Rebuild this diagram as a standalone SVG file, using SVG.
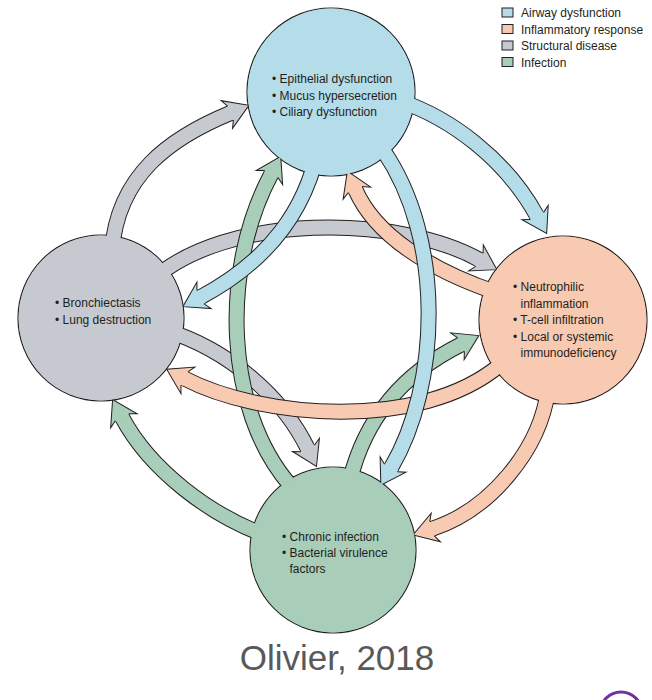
<svg xmlns="http://www.w3.org/2000/svg" width="652" height="700" viewBox="0 0 652 700">
<style>
.o{fill:none;stroke:#231f20;stroke-width:16}
.b{fill:none;stroke-width:14}
.cb{stroke:#b4dde9}.cs{stroke:#f9cab2}.cg{stroke:#c6c9d0}.ci{stroke:#a8cdb9}
.fb{fill:#b4dde9}.fs{fill:#f9cab2}.fg{fill:#c6c9d0}.fi{fill:#a8cdb9}
.hl{fill:none;stroke:#231f20;stroke-width:1;stroke-linejoin:miter}
.ring{stroke:#231f20;stroke-width:1.2}
.t{font-family:"Liberation Sans",Arial,sans-serif;font-size:12px;fill:#231f20}
.cap{font-family:"Liberation Sans",Arial,sans-serif;font-size:35px;fill:#595959}
.lb{stroke:#231f20;stroke-width:1}
</style>
<defs>
<marker id="mb" markerUnits="userSpaceOnUse" orient="auto" refX="0" refY="0" overflow="visible"><path class="fb" d="M-2,-7 L0,-7 L-4,-15 L20,0 L-4,15 L0,7 L-2,7 Z"/><path class="hl" d="M0,-7.5 L-4,-15 L20,0 L-4,15 L0,7.5"/></marker>
<marker id="ms" markerUnits="userSpaceOnUse" orient="auto" refX="0" refY="0" overflow="visible"><path class="fs" d="M-2,-7 L0,-7 L-4,-15 L20,0 L-4,15 L0,7 L-2,7 Z"/><path class="hl" d="M0,-7.5 L-4,-15 L20,0 L-4,15 L0,7.5"/></marker>
<marker id="mg" markerUnits="userSpaceOnUse" orient="auto" refX="0" refY="0" overflow="visible"><path class="fg" d="M-2,-7 L0,-7 L-4,-15 L20,0 L-4,15 L0,7 L-2,7 Z"/><path class="hl" d="M0,-7.5 L-4,-15 L20,0 L-4,15 L0,7.5"/></marker>
<marker id="mi" markerUnits="userSpaceOnUse" orient="auto" refX="0" refY="0" overflow="visible"><path class="fi" d="M-2,-7 L0,-7 L-4,-15 L20,0 L-4,15 L0,7 L-2,7 Z"/><path class="hl" d="M0,-7.5 L-4,-15 L20,0 L-4,15 L0,7.5"/></marker>
</defs>
<rect width="652" height="700" fill="#ffffff"/>
<g id="node-outlines">
<circle class="fb ring" cx="331" cy="92" r="84"/>
<circle class="fg ring" cx="101" cy="318" r="83"/>
<circle class="fs ring" cx="563" cy="320" r="84"/>
<circle class="fi ring" cx="333" cy="550" r="83"/>
</g>
<g id="connectors">
<path class="o" d="M112,250 C118,175 170,138 230.5,113"/><path class="b cg" marker-end="url(#mg)" d="M112,250 C118,175 170,138 230.5,113"/>
<path class="o" d="M150,282 C225,212 400,215 479.4,259.8"/><path class="b cg" marker-end="url(#mg)" d="M150,282 C225,212 400,215 479.4,259.8"/>
<path class="o" d="M165,330 C230,350 283,398 307.7,448.5"/><path class="b cg" marker-end="url(#mg)" d="M165,330 C230,350 283,398 307.7,448.5"/>
<path class="o" d="M290,485 C225,410 220,270 271.3,174"/><path class="b ci" marker-end="url(#mi)" d="M290,485 C225,410 220,270 271.3,174"/>
<path class="o" d="M350,480 C365,420 400,375 461,344.5"/><path class="b ci" marker-end="url(#mi)" d="M350,480 C365,420 400,375 461,344.5"/>
<path class="o" d="M265,535 C210,515 150,470 122,417.3"/><path class="b ci" marker-end="url(#mi)" d="M265,535 C210,515 150,470 122,417.3"/>
<path class="o" d="M495,292 C430,270 375,235 355.3,189.5"/><path class="b cs" marker-end="url(#ms)" d="M495,292 C430,270 375,235 355.3,189.5"/>
<path class="o" d="M500,365 C420,432 260,418 184.4,378.5"/><path class="b cs" marker-end="url(#ms)" d="M500,365 C420,432 260,418 184.4,378.5"/>
<path class="o" d="M548,390 C540,450 490,510 432,528.8"/><path class="b cs" marker-end="url(#ms)" d="M548,390 C540,450 490,510 432,528.8"/>
<path class="o" d="M400,101 C450,118 505,158 537,216"/><path class="b cb" marker-end="url(#mb)" d="M400,101 C450,118 505,158 537,216"/>
<path class="o" d="M318,150 C305,210 270,260 200.5,297.2"/><path class="b cb" marker-end="url(#mb)" d="M318,150 C305,210 270,260 200.5,297.2"/>
<path class="o" d="M383,150 C445,240 440,385 391,468"/><path class="b cb" marker-end="url(#mb)" d="M383,150 C445,240 440,385 391,468"/>
</g>
<g id="node-airway">
<circle class="fb" cx="331" cy="92" r="83.4"/>
<text class="t"><tspan x="272" y="83">• Epithelial dysfunction</tspan><tspan x="272" y="99.5">• Mucus hypersecretion</tspan><tspan x="272" y="116">• Ciliary dysfunction</tspan></text>
</g>
<g id="node-structural">
<circle class="fg" cx="101" cy="318" r="82.4"/>
<text class="t"><tspan x="55" y="307">• Bronchiectasis</tspan><tspan x="55" y="324">• Lung destruction</tspan></text>
</g>
<g id="node-inflammatory">
<circle class="fs" cx="563" cy="320" r="83.4"/>
<text class="t"><tspan x="513" y="291">• Neutrophilic</tspan><tspan x="520.5" y="307.5">inflammation</tspan><tspan x="513" y="324">• T-cell infiltration</tspan><tspan x="513" y="340.5">• Local or systemic</tspan><tspan x="520.5" y="357">immunodeficiency</tspan></text>
</g>
<g id="node-infection">
<circle class="fi" cx="333" cy="550" r="82.4"/>
<text class="t"><tspan x="282" y="541">• Chronic infection</tspan><tspan x="282" y="557">• Bacterial virulence</tspan><tspan x="289.5" y="573">factors</tspan></text>
</g>
<g id="legend">
<rect class="fb lb" x="502" y="8" width="11" height="9"/>
<rect class="fs lb" x="502" y="24.5" width="11" height="9"/>
<rect class="fg lb" x="502" y="41" width="11" height="9"/>
<rect class="fi lb" x="502" y="57.5" width="11" height="9"/>
<text class="t"><tspan x="521" y="17">Airway dysfunction</tspan><tspan x="521" y="33.5">Inflammatory response</tspan><tspan x="521" y="50">Structural disease</tspan><tspan x="521" y="66.5">Infection</tspan></text>
</g>
<text class="cap" x="337" y="670" text-anchor="middle">Olivier, 2018</text>
<circle cx="621" cy="713" r="21" fill="#ffffff" stroke="#7030a0" stroke-width="3"/>
</svg>
